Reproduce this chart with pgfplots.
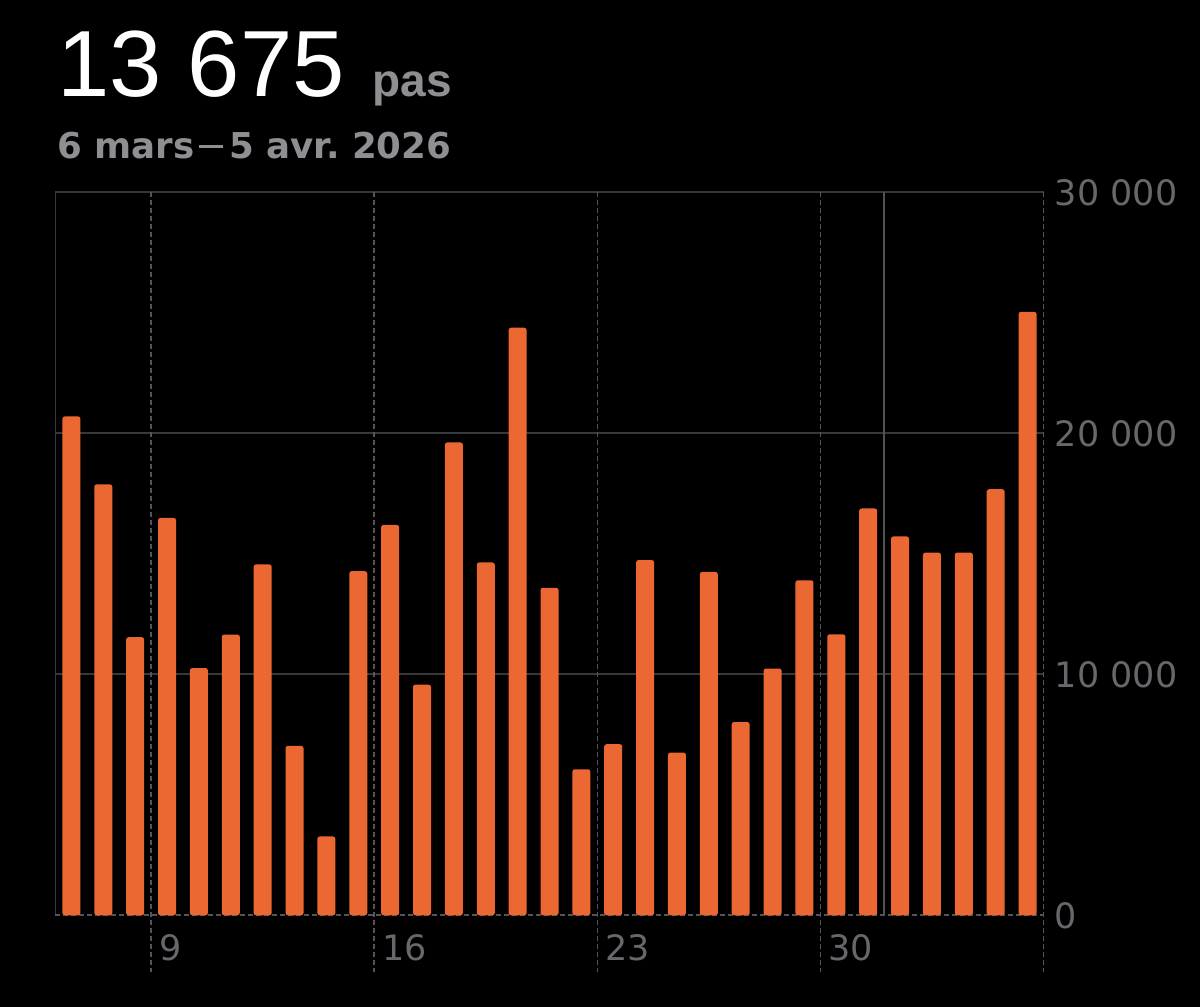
\documentclass[border=0pt]{standalone}
\usepackage{pgfplots}
\pgfplotsset{compat=1.18}
\usepackage{fontspec}
\setmainfont{DejaVu Sans}
\newfontfamily\titlefont{Liberation Sans}
\definecolor{barc}{RGB}{236,104,50}
\definecolor{gridc}{RGB}{56,56,60}
\definecolor{dashc}{RGB}{84,84,90}
\definecolor{monthc}{RGB}{80,80,86}
\definecolor{labc}{RGB}{104,104,108}
\definecolor{subc}{RGB}{142,142,147}
\begin{document}
\begin{tikzpicture}
\fill[black] (0,0) rectangle (600pt,503.5pt);
\useasboundingbox (0,0) rectangle (600pt,503.5pt);
\node[anchor=base west, inner sep=0pt, text=white, font=\titlefont\fontsize{47}{50}\selectfont] at (28.5pt,455pt) {13 675};
\node[anchor=base west, inner sep=0pt, text=subc, font=\titlefont\bfseries\fontsize{23}{26}\selectfont] at (186pt,455pt) {pas};
\node[anchor=base west, inner sep=0pt, text=subc, font=\bfseries\fontsize{17.8}{20}\selectfont] at (28.5pt,424pt) {6 mars\hspace{2.5pt}\rule[5.4pt]{12pt}{1.7pt}\hspace{3pt}5 avr.\ 2026};
\begin{axis}[
  at={(27.75pt,45.85pt)}, anchor=south west,
  scale only axis, width=494pt, height=361.5pt,
  xmin=-0.5, xmax=30.5, ymin=0, ymax=30000,
  axis line style={draw=none},
  major tick length=0pt,
  clip=false,
  scaled y ticks=false,
  /pgf/number format/assume math mode=true,
  ytick={0,10000,20000,30000},
  yticklabels={0,10 000,20 000,30 000},
  yticklabel pos=right,
  yticklabel style={anchor=west, inner sep=0pt, xshift=5.5pt, text=labc, font=\fontsize{17.5}{20}\selectfont},
  xtick={2.5,9.5,16.5,23.5},
  xticklabels={9,16,23,30},
  xticklabel style={anchor=west, inner sep=0pt, xshift=3.8pt, yshift=-16.25pt, text=labc, font=\fontsize{17.5}{20}\selectfont},
  ybar, bar width=9pt,
]
% grid
\draw[gridc, line width=0.9pt] (axis cs:-0.5,10000) -- (axis cs:30.5,10000);
\draw[gridc, line width=0.9pt] (axis cs:-0.5,20000) -- (axis cs:30.5,20000);
\draw[gridc, line width=0.9pt] (axis cs:-0.5,30000) -- (axis cs:30.5,30000);
\draw[gridc, line width=0.9pt] (axis cs:-0.5,0) -- (axis cs:-0.5,30000);
\draw[monthc, line width=0.9pt] (axis cs:25.5,0) -- (axis cs:25.5,30000);
\draw[dashc, line width=0.8pt, dash pattern=on 2.5pt off 1.5pt] (axis cs:-0.5,0) -- (axis cs:30.5,0);
\draw[dashc, line width=0.8pt, dash pattern=on 2.5pt off 1.5pt] (axis cs:2.5,30000) -- ([yshift=-28.5pt]axis cs:2.5,0);
\draw[dashc, line width=0.8pt, dash pattern=on 2.5pt off 1.5pt] (axis cs:9.5,30000) -- ([yshift=-28.5pt]axis cs:9.5,0);
\draw[dashc, line width=0.8pt, dash pattern=on 2.5pt off 1.5pt] (axis cs:16.5,30000) -- ([yshift=-28.5pt]axis cs:16.5,0);
\draw[dashc, line width=0.8pt, dash pattern=on 2.5pt off 1.5pt] (axis cs:23.5,30000) -- ([yshift=-28.5pt]axis cs:23.5,0);
\draw[dashc, line width=0.8pt, dash pattern=on 2.5pt off 1.5pt] (axis cs:30.5,30000) -- ([yshift=-28.5pt]axis cs:30.5,0);
\addplot[fill=barc, draw=none, rounded corners=1.2pt] coordinates {
(0,20700) (1,17880) (2,11540) (3,16490) (4,10260) (5,11650) (6,14560) (7,7030)
(8,3270) (9,14280) (10,16200) (11,9570) (12,19620) (13,14640) (14,24380) (15,13590)
(16,6060) (17,7100) (18,14740) (19,6750) (20,14250) (21,8020) (22,10240) (23,13900)
(24,11660) (25,16880) (26,15720) (27,15050) (28,15050) (29,17680) (30,25040)
};
\end{axis}
\end{tikzpicture}
\end{document}
